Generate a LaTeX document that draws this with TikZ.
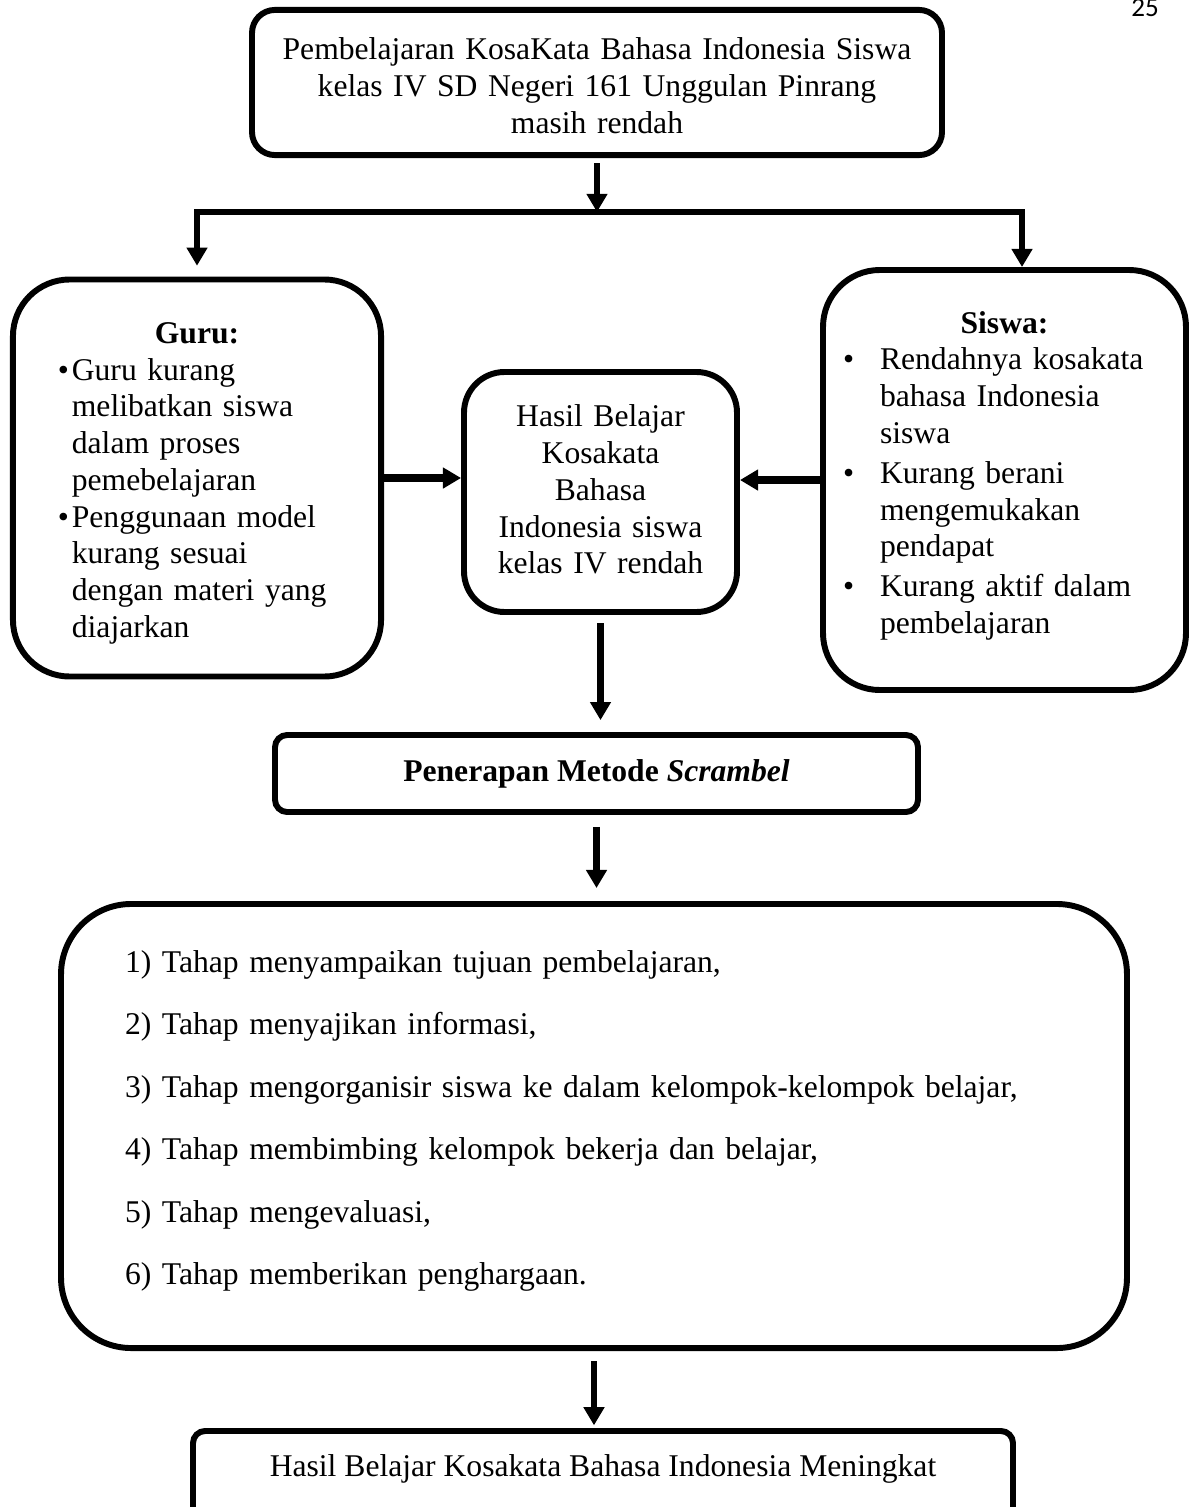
\documentclass[tikz,border=0pt]{standalone}
\usepackage{fontspec}
\setmainfont{Liberation Serif}
\newfontfamily\halfont{Carlito}
\usetikzlibrary{arrows.meta}

\newcommand{\butir}[2]{\par\hangindent=#1\hangafter=1\noindent\makebox[#1][l]{\textbullet}#2\par}

\begin{document}
\begin{tikzpicture}[x=0.37pt, y=-0.37pt, >={Triangle[length=6.7pt,width=7.4pt]},
  kotak/.style={draw, line width=2.2pt, rounded corners=#1, inner sep=0pt,
    font=\fontsize{11.7}{13.6}\selectfont},
  kotak/.default=8pt,
  panah/.style={->, line width=2.3pt},
  panahtebal/.style={->, line width=3.2pt}]

\useasboundingbox (0,0) rectangle (1189,1507);

%%%%%%%%%%%% nomor halaman
\node[font=\halfont\fontsize{10}{12}\selectfont, anchor=base] (hal) at (1145,17) {25};

%%%%%%%%%%%% masalah
\node[kotak=8.5pt, minimum width=255.3pt, minimum height=53.7pt, text width=250pt, align=center] (masalah) at (597,82.5)
  {\rule{0pt}{10.6pt}Pembelajaran KosaKata Bahasa Indonesia Siswa\\kelas IV SD Negeri 161 Unggulan Pinrang\\masih rendah};

\coordinate (cabang) at (597,212);
\coordinate (kiri) at (197,212);
\coordinate (kanan) at (1022,212);

\node[kotak=21pt, minimum width=136.2pt, minimum height=146.9pt, text width=103pt, align=left] (guru) at (197,478)
  {{\centering\noindent\rule{0pt}{11.7pt}\textbf{Guru:}\par}
   \butir{5.2pt}{Guru kurang\newline melibatkan siswa\newline dalam proses\newline pemebelajaran}
   \butir{5.2pt}{Penggunaan model\newline kurang sesuai\newline dengan materi yang\newline diajarkan}};

\node[kotak=21pt, minimum width=134.3pt, minimum height=155.4pt, text width=119.5pt, align=left] (siswa) at (1004.5,480)
  {{\centering\noindent\textbf{Siswa:}\par}
   \butir{13.7pt}{Rendahnya kosakata\newline bahasa Indonesia\newline siswa}\vspace{1.2pt}
   \butir{13.7pt}{Kurang berani\newline mengemukakan\newline pendapat}\vspace{1.2pt}
   \butir{13.7pt}{Kurang aktif dalam\newline pembelajaran\rule[-5.6pt]{0pt}{5.6pt}}};

\node[kotak=15pt, minimum width=101pt, minimum height=88.8pt, text width=90pt, align=center] (hasil) at (600.5,492)
  {Hasil Belajar\\Kosakata\\Bahasa\\Indonesia siswa\\kelas IV rendah\rule[-2pt]{0pt}{2pt}};

\node[kotak=4.5pt, minimum width=237.9pt, minimum height=28.5pt] (terap) at (596.5,773.5)
  {\textbf{Penerapan Metode \textit{Scrambel}}};

\node[kotak=26pt, minimum width=394.4pt, minimum height=164.3pt, text width=347pt, align=left,
  font=\fontsize{11.7}{23.1}\selectfont] (tahap) at (594,1126)
  {1) Tahap menyampaikan tujuan pembelajaran,\\
   2) Tahap menyajikan informasi,\\
   3) Tahap mengorganisir siswa ke dalam kelompok-kelompok belajar,\\
   4) Tahap membimbing kelompok bekerja dan belajar,\\
   5) Tahap mengevaluasi,\\
   6) Tahap memberikan penghargaan.\rule[-6.3pt]{0pt}{6.3pt}};

\node[kotak=4.5pt, minimum width=303.4pt, inner ysep=7pt, text height=10pt, text depth=40pt, anchor=north] (akhir) at (603,1428)
  {Hasil Belajar Kosakata Bahasa Indonesia Meningkat};

%%%%%%%%%%%% panah
\draw[panah, shorten <=2pt] (masalah) -- (cabang);
\draw[<->, line width=2.3pt, shorten <=4pt] (kiri |- guru.north) -- (kiri) -- (kanan) -- (kanan |- siswa.north);
\draw[panahtebal] (guru.east) -- (guru.east -| hasil.west);
\draw[panahtebal] (siswa.west) -- (siswa.west -| hasil.east);
\draw[panah, shorten <=3pt, shorten >=4.4pt] (hasil.south) -- (hasil.south |- terap.north);
\draw[panah, shorten <=4.4pt, shorten >=4.8pt] (terap.south) -- (terap.south |- tahap.north);
\draw[panah, shorten <=3.7pt, shorten >=1pt] (tahap.south) -- (tahap.south |- akhir.north);
\end{tikzpicture}
\end{document}
